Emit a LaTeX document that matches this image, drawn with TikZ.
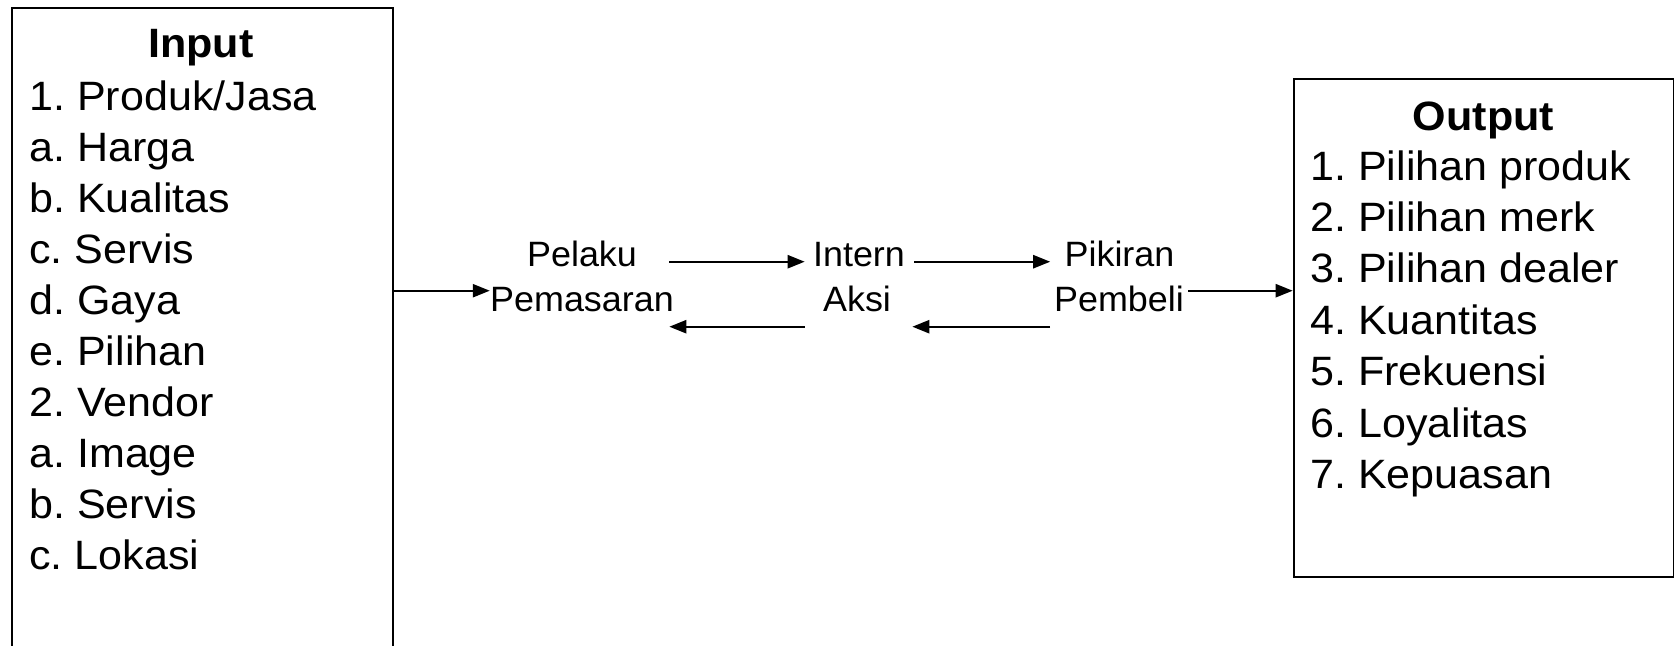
\documentclass[tikz,border=0pt]{standalone}
\usepackage{fontspec}
\setmainfont{Liberation Sans}[FakeStretch=1.05]
\newfontfamily\midfont{Liberation Sans}[FakeStretch=1.02]
\usetikzlibrary{arrows.meta,calc}
\frenchspacing
\begin{document}
\begin{tikzpicture}[x=0.5pt,y=-0.5pt,
  box/.style={draw,line width=1pt,inner sep=0pt,anchor=north west},
  lst/.style={inner sep=0pt,anchor=base west,font=\fontsize{20.5pt}{24pt}\selectfont},
  ttl/.style={inner sep=0pt,anchor=base,font=\fontsize{20.5pt}{24pt}\selectfont\bfseries},
  mid/.style={inner sep=0pt,anchor=base,font=\midfont\fontsize{17.6pt}{20pt}\selectfont},
  arr/.style={line width=1.2pt,-{Triangle[length=8.5pt,width=6.5pt]}}]
\useasboundingbox (0,0) rectangle (1674,645);
\clip (0,0) rectangle (1674,645);
% boxes
\node[box,minimum width=190.6pt,minimum height=350pt] (inbox) at (10.5,6.7) {};
\node[box,minimum width=190.15pt,minimum height=248.7pt] (outbox) at (1292.7,78.3) {};
% titles
\node[ttl] (tin) at (201,57.3) {Input};
\node[ttl] (tout) at (1483.5,130) {Output};
% input list
\foreach \t [count=\i] in {1. Produk/Jasa,a. Harga,b. Kualitas,c. Servis,d. Gaya,e. Pilihan,2. Vendor,a. Image,b. Servis,c. Lokasi}
  \node[lst] (in\i) at (29,{110+51.1*(\i-1)}) {\t};
% output list
\foreach \t [count=\i] in {1. Pilihan produk,2. Pilihan merk,3. Pilihan dealer,4. Kuantitas,5. Frekuensi,6. Loyalitas,7. Kepuasan}
  \node[lst] (out\i) at (1310,{180+51.4*(\i-1)}) {\t};
% middle labels
\node[mid] (pel) at (582,266) {Pelaku};
\node[mid] (pem) at (582,311) {Pemasaran};
\node[mid] (int) at (859,266) {Intern};
\node[mid] (aks) at (857,311) {Aksi};
\node[mid] (pik) at (1119.5,266) {Pikiran};
\node[mid] (pmb) at (1119,311) {Pembeli};
% arrow levels
\coordinate (yA) at (0,290.7);
\coordinate (yT) at (0,261.7);
\coordinate (yB) at (0,326.7);
% connectors
\draw[arr] (inbox.east |- yA) -- (pem.west |- yA);
\draw[arr] ($(pel.east |- yT)+(32,0)$) -- ($(int.west |- yT)+(-8,0)$);
\draw[arr] ($(int.east |- yT)+(9,0)$) -- ($(pik.west |- yT)+(-14,0)$);
\draw[arr] ($(pmb.east |- yA)+(4,0)$) -- (outbox.west |- yA);
\draw[arr] ($(pik.west |- yB)+(-14,0)$) -- ($(int.east |- yB)+(7,0)$);
\draw[arr] ($(int.west |- yB)+(-8,0)$) -- ($(pel.east |- yB)+(32,0)$);
\end{tikzpicture}
\end{document}
